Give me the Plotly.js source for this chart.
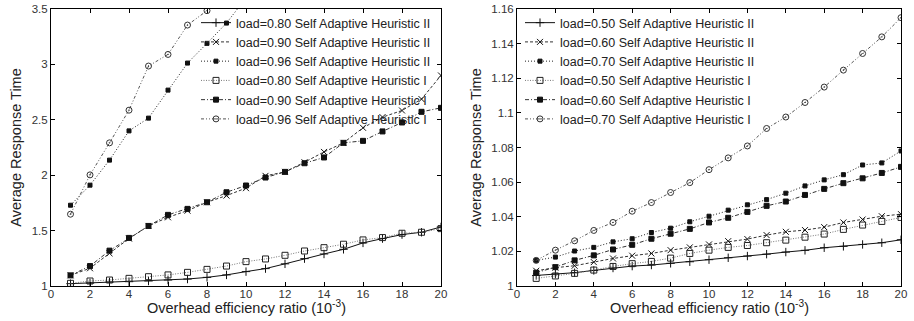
<!DOCTYPE html>
<html>
<head>
<meta charset="utf-8">
<script src="https://cdn.plot.ly/plotly-3.0.1.min.js"></script>
<style>html,body{margin:0;padding:0;background:#fff;}#chart{width:914px;height:321px;}</style>
</head>
<body>
<div id="chart"></div>
<script>
// ---------- data ----------
const ratio = [1,2,3,4,5,6,7,8,9,10,11,12,13,14,15,16,17,18,19,20];

// Left panel (high load)
const leftNames = [
  "load=0.80 Self Adaptive Heuristic II",
  "load=0.90 Self Adaptive Heuristic II",
  "load=0.96 Self Adaptive Heuristic II",
  "load=0.80 Self Adaptive Heuristic I",
  "load=0.90 Self Adaptive Heuristic I",
  "load=0.96 Self Adaptive Heuristic I"
];
const h2_080 = [1.021,1.027,1.036,1.039,1.045,1.054,1.063,1.078,1.100,1.130,1.157,1.200,1.247,1.289,1.331,1.389,1.428,1.464,1.485,1.533];
const h2_090 = [1.096,1.160,1.295,1.428,1.542,1.620,1.680,1.756,1.816,1.883,1.994,2.030,2.117,2.210,2.292,2.428,2.524,2.584,2.687,2.900];
const h2_096 = [1.729,1.910,2.136,2.400,2.515,2.768,3.012,3.190,3.373,3.600];
const h1_080 = [1.024,1.045,1.054,1.069,1.084,1.100,1.123,1.150,1.180,1.220,1.244,1.277,1.316,1.346,1.377,1.416,1.437,1.476,1.485,1.518];
const h1_090 = [1.096,1.180,1.319,1.434,1.542,1.642,1.696,1.756,1.846,1.907,1.979,2.030,2.108,2.160,2.292,2.310,2.395,2.476,2.572,2.608];
const h1_096 = [1.648,2.003,2.292,2.587,2.985,3.090,3.355,3.485,3.600];

// Right panel (low load)
const rightNames = [
  "load=0.50 Self Adaptive Heuristic II",
  "load=0.60 Self Adaptive Heuristic II",
  "load=0.70 Self Adaptive Heuristic II",
  "load=0.50 Self Adaptive Heuristic I",
  "load=0.60 Self Adaptive Heuristic I",
  "load=0.70 Self Adaptive Heuristic I"
];
const h2_050 = [1.0061,1.0069,1.0077,1.0090,1.0104,1.0115,1.0121,1.0131,1.0140,1.0152,1.0163,1.0173,1.0184,1.0196,1.0206,1.0221,1.0229,1.0240,1.0250,1.0267];
const h2_060 = [1.0088,1.0106,1.0117,1.0138,1.0159,1.0175,1.0188,1.0207,1.0223,1.0240,1.0259,1.0271,1.0294,1.0313,1.0323,1.0340,1.0367,1.0384,1.0403,1.0415];
const h2_070 = [1.0148,1.0167,1.0202,1.0223,1.0255,1.0273,1.0309,1.0334,1.0371,1.0403,1.0438,1.0469,1.0499,1.0536,1.0578,1.0613,1.0643,1.0699,1.0711,1.0780];
const h1_050 = [1.0044,1.0058,1.0073,1.0092,1.0113,1.0129,1.0142,1.0161,1.0188,1.0207,1.0223,1.0234,1.0250,1.0265,1.0282,1.0300,1.0327,1.0352,1.0373,1.0396];
const h1_060 = [1.0077,1.0109,1.0148,1.0177,1.0211,1.0238,1.0273,1.0302,1.0330,1.0367,1.0394,1.0428,1.0463,1.0488,1.0526,1.0561,1.0594,1.0622,1.0653,1.0688];
const h1_070 = [1.0148,1.0207,1.0261,1.0321,1.0367,1.0432,1.0482,1.0540,1.0597,1.0672,1.0740,1.0809,1.0910,1.0976,1.1060,1.1149,1.1247,1.1343,1.1439,1.1550];

const xTitle = "Overhead efficiency ratio (10<sup>-3</sup>)";
const yTitle = "Average Response Time";

// ---------- styles ----------
const styles = [
  {dash:"solid", color:"#111", sym:"cross-thin-open", size:6, fill:"#111"},
  {dash:"3px,2px", color:"#333", sym:"x-thin-open", size:6, fill:"#111"},
  {dash:"1px,2px", color:"#222", sym:"square", size:4, fill:"#111"},
  {dash:"1px,1.5px", color:"#777", sym:"square-open", size:6, fill:"#222"},
  {dash:"4px,2px,1px,2px", color:"#333", sym:"square", size:5, fill:"#111"},
  {dash:"3px,2px,1px,2px,1px,2px", color:"#555", sym:"circle-open-dot", size:6, fill:"#333"}
];

function mk(ys, name, st, xa, ya, lg){
  return {
    x: ratio.slice(0, ys.length), y: ys, name: name,
    type: "scatter", mode: "lines+markers",
    xaxis: xa, yaxis: ya, legend: lg,
    line: {color: st.color, width: 1, dash: st.dash},
    marker: {symbol: st.sym, size: st.size, color: st.fill, line: {color: st.fill, width: 1}},
    cliponaxis: true
  };
}

const leftY = [h2_080,h2_090,h2_096,h1_080,h1_090,h1_096];
const rightY = [h2_050,h2_060,h2_070,h1_050,h1_060,h1_070];
const traces = [];
leftY.forEach((ys,i)=>traces.push(mk(ys,leftNames[i],styles[i],"x","y","legend")));
rightY.forEach((ys,i)=>traces.push(mk(ys,rightNames[i],styles[i],"x2","y2","legend2")));

const fam = "Liberation Sans, Arial, Helvetica, sans-serif";
function xax(domain, anchor){
  return {domain: domain, anchor: anchor, range:[0,20], dtick:2, tick0:0,
    showgrid:false, zeroline:false, showline:true, linecolor:"#000", linewidth:1,
    mirror:"ticks", ticks:"inside", ticklen:4, tickcolor:"#000",
    ticklabelstandoff:-3,
    tickfont:{family:fam,size:11.5,color:"#333"},
    automargin:false, fixedrange:true};
}
function yax(domain, anchor, range, dtick){
  return {domain: domain, anchor: anchor, range: range, dtick: dtick, tick0:1,
    showgrid:false, zeroline:false, showline:true, linecolor:"#000", linewidth:1,
    mirror:"ticks", ticks:"inside", ticklen:4, tickcolor:"#000",
    tickfont:{family:fam,size:11.5,color:"#333"},
    title:{text:yTitle, font:{family:fam,size:14.5,color:"#222"}, standoff:6},
    automargin:false, fixedrange:true};
}

const yDom = [35/321, 312/321];
const xDomL = [51/914, 441/914];
const xDomR = [517/914, 901/914];
const layout = {
  width:914, height:321,
  margin:{l:0,r:0,t:0,b:0},
  paper_bgcolor:"#fff", plot_bgcolor:"#fff",
  font: {family:fam, size:12, color:"#222"},
  showlegend:true,
  xaxis: xax(xDomL, "y"),
  yaxis: yax(yDom, "x", [1,3.5], 0.5),
  xaxis2: xax(xDomR, "y2"),
  yaxis2: yax(yDom, "x2", [1,1.16], 0.02),
  legend: {x:436/914, xanchor:"right", y:0.975, yanchor:"top", bgcolor:"rgba(255,255,255,0)",
           font:{family:fam,size:12.5,color:"#222"}, tracegroupgap:0, itemwidth:30},
  legend2: {x:520/914, xanchor:"left", y:0.975, yanchor:"top", bgcolor:"rgba(255,255,255,0)",
           font:{family:fam,size:12.5,color:"#222"}, tracegroupgap:0, itemwidth:30},
  annotations: [
    {text:xTitle, xref:"paper", yref:"paper", x:(xDomL[0]+xDomL[1])/2, y:(321-307)/321,
     xanchor:"center", yanchor:"middle", showarrow:false, font:{family:fam,size:14.5,color:"#222"}},
    {text:xTitle, xref:"paper", yref:"paper", x:(xDomR[0]+xDomR[1])/2, y:(321-307)/321,
     xanchor:"center", yanchor:"middle", showarrow:false, font:{family:fam,size:14.5,color:"#222"}}
  ]
};

Plotly.newPlot("chart", traces, layout, {displayModeBar:false, staticPlot:true});
</script>
</body>
</html>
